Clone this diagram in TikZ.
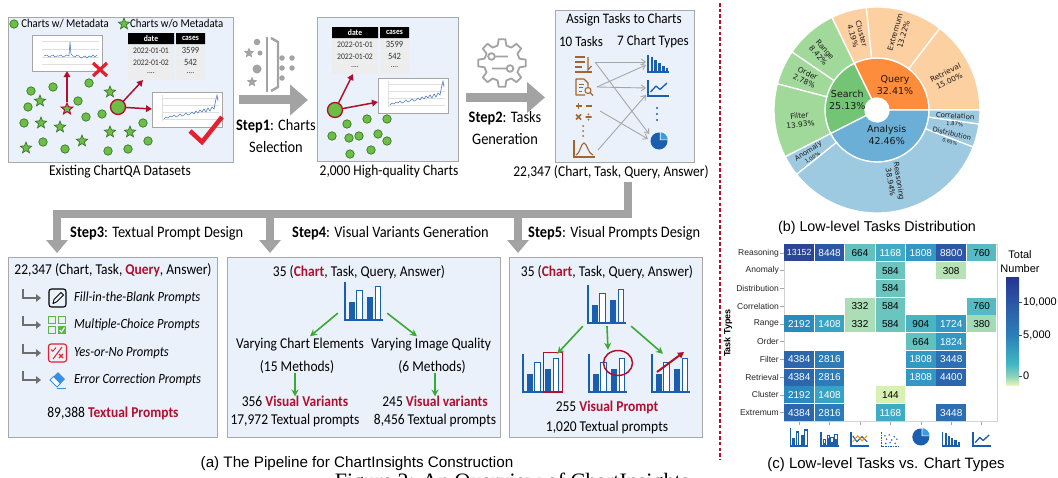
\documentclass[tikz,border=0pt]{standalone}
\usepackage{fontspec}
\setmainfont{Carlito}[FakeStretch=0.9]
\newfontfamily\arialf{Liberation Sans}
\newfontfamily\dejavuf{DejaVu Sans}
\newfontfamily\timesf{Liberation Serif}
\usetikzlibrary{arrows.meta,shapes.geometric,positioning,calc}

\definecolor{boxblue}{HTML}{EAF1FB}
\definecolor{boxgray}{HTML}{A8A8A8}
\definecolor{arrowgray}{HTML}{A3A3A3}
\definecolor{hlred}{HTML}{B0102E}
\definecolor{markred}{HTML}{E4202F}
\definecolor{ptgreen}{HTML}{6CBE45}
\definecolor{ptdark}{HTML}{2F6B1E}
\definecolor{chartblue}{HTML}{1A5FAF}
\definecolor{pielight}{HTML}{3E9BE0}
\definecolor{taskbrown}{HTML}{A5652A}
\definecolor{arrgreen}{HTML}{3AA935}
\definecolor{tabgray}{HTML}{EDEDED}
\definecolor{lineblue}{HTML}{4F7FC0}
\definecolor{hookgray}{HTML}{6E6E6E}
\definecolor{mcgreen}{HTML}{59B84A}
\definecolor{erblue}{HTML}{3A8FE3}
\definecolor{orangeln}{HTML}{F39A1E}
\definecolor{qin}{HTML}{FD8D3C}
\definecolor{qout}{HTML}{FDD0A2}
\definecolor{sin}{HTML}{74C476}
\definecolor{sout}{HTML}{A1D99B}
\definecolor{ain}{HTML}{6BAED6}
\definecolor{aout}{HTML}{9ECAE1}
\definecolor{hA}{HTML}{2A4695}
\definecolor{hB}{HTML}{2D56A4}
\definecolor{hC}{HTML}{2C66AE}
\definecolor{hD}{HTML}{2C6FB2}
\definecolor{hE}{HTML}{2C7CB9}
\definecolor{hF}{HTML}{2A8ABF}
\definecolor{hG}{HTML}{3398C3}
\definecolor{hH}{HTML}{39A3C5}
\definecolor{hI}{HTML}{40ABC5}
\definecolor{hJ}{HTML}{4BB4C3}
\definecolor{hK}{HTML}{55BAC2}
\definecolor{hL}{HTML}{62C0BF}
\definecolor{hM}{HTML}{6CC4BE}
\definecolor{hN}{HTML}{A4DBB7}
\definecolor{hO}{HTML}{ABDEB6}
\definecolor{hP}{HTML}{B6E2B5}
\definecolor{hQ}{HTML}{D9F0B3}
\definecolor{cbA}{HTML}{E6F5B8}
\definecolor{cbB}{HTML}{8ED2BA}
\definecolor{cbC}{HTML}{41B6C4}
\definecolor{cbD}{HTML}{2C7FB8}
\definecolor{cbE}{HTML}{2B5AA6}
\definecolor{cbF}{HTML}{253494}

\pgfdeclareverticalshading{cbarshade}{100bp}{color(0bp)=(cbA); color(25bp)=(cbA); color(29bp)=(cbB); color(35bp)=(cbC); color(48bp)=(cbD); color(62bp)=(cbE); color(75bp)=(cbF); color(100bp)=(cbF)}

\newcommand\redbf[1]{\textbf{\color{hlred}#1}}

\tikzset{
  panel/.style={draw=boxgray, fill=boxblue, line width=0.9pt, inner sep=0pt},
  txt/.style={inner sep=0pt, font=\fontsize{15}{17}\selectfont},
  steptxt/.style={inner sep=0pt, font=\fontsize{16}{22}\selectfont, align=center},
  ittxt/.style={inner sep=0pt, font=\itshape\fontsize{14}{16}\selectfont},
  legtxt/.style={inner sep=0pt, font=\fontsize{12}{14}\selectfont},
  tabtxt/.style={inner sep=0pt, text=black!80, font=\fontsize{8.5}{10}\selectfont},
  captxt/.style={inner sep=0pt, font=\arialf\fontsize{15}{17}\selectfont},
  gdot/.style={circle, fill=ptgreen, draw=ptdark, line width=0.6pt, minimum size=8.5pt, inner sep=0pt},
  gstar/.style={star, star points=5, star point ratio=2.3, fill=ptgreen, draw=ptdark, line width=0.6pt, minimum size=12pt, inner sep=0pt},
  bigdot/.style={circle, fill=ptgreen, draw=hlred, line width=1.3pt, minimum size=15pt, inner sep=0pt},
  redarr/.style={draw=hlred, line width=1.5pt, -{Triangle[length=6pt,width=6.5pt]}},
  bigarrow/.style={draw=arrowgray, line width=9pt, -{Triangle[length=18pt,width=30pt]}},
  bus/.style={draw=arrowgray, line width=8.5pt, line join=miter, -{Triangle[length=13pt,width=21pt]}},
  hook/.style={draw=hookgray, line width=1.8pt, -{Triangle[length=5pt,width=7.5pt]}},
  garrow/.style={draw=arrgreen, line width=1.6pt, -{Stealth[length=7pt,width=7pt]}},
  icobox/.style={minimum width=38pt, minimum height=38pt, inner sep=0pt},
  sbin/.style={inner sep=0pt, align=center, text=black!90, font=\dejavuf\fontsize{9.5}{11.5}\selectfont},
  sbout/.style={inner sep=0pt, align=center, text=black!90, font=\dejavuf\fontsize{7.4}{8.8}\selectfont},
  hcell/.style={minimum width=29.5pt, minimum height=16.85pt, inner sep=0pt, font=\arialf\fontsize{10}{11}\selectfont},
  rowlbl/.style={anchor=east, inner sep=0pt, text=black!85, font=\arialf\fontsize{8.5}{10}\selectfont},
  cbtxt/.style={inner sep=0pt, font=\arialf\fontsize{11}{13}\selectfont},
  barico/.pic={
    \fill[chartblue] (4,0) rectangle (10,-18);
    \draw[chartblue, fill=white, line width=1.2pt] (12,-0.6) rectangle (17.5,-30);
    \fill[chartblue] (22,0) rectangle (28.5,-23);
    \draw[chartblue, fill=white, line width=1.2pt] (30.5,-0.6) rectangle (36,-34);
    \draw[chartblue, line width=1.5pt] (0,-38) -- (0,0) -- (38,0);
  },
  decbar/.pic={
    \foreach \x/\h in {2.5/15,6.3/12,10.1/9,13.9/6.5,17.7/4.5}
      \fill[chartblue] (\x,0) rectangle (\x+2.6,-\h);
    \draw[chartblue, line width=1.3pt] (0,-17) -- (0,0) -- (21,0);
  },
  lineico/.pic={
    \draw[chartblue, line width=1.3pt] (0,-16) -- (0,0) -- (21,0);
    \draw[chartblue, line width=1.3pt, line join=round] (2.5,-4) -- (8,-10) -- (12,-6.5) -- (19,-13);
  },
  pieico/.pic={
    \fill[chartblue] (0,0) circle (8.5);
    \fill[pielight, draw=white, line width=0.6pt] (1.2,-1.2) -- +(0:8) arc (0:-90:8) -- cycle;
  },
  stackico/.pic={
    \foreach \x/\h/\m in {2.5/8/4,7/13/9,11.5/10/5,16/14/8}{
      \draw[chartblue, fill=white, line width=0.8pt] (\x,0) rectangle (\x+3.2,-\h);
      \fill[chartblue] (\x,0) rectangle (\x+3.2,-\m);
    }
    \draw[chartblue, line width=1.3pt] (0,-17) -- (0,0) -- (21,0);
  },
  crossico/.pic={
    \draw[chartblue, line width=1.3pt] (0,-16) -- (0,0) -- (21,0);
    \draw[chartblue, line width=1.1pt] (2,-12) -- (7,-5) -- (13,-11) -- (19,-5);
    \draw[orangeln, line width=1.1pt] (2,-5) -- (8,-12) -- (13,-6) -- (19,-12);
  },
  scatico/.pic={
    \draw[chartblue, line width=1pt, dash pattern=on 1.5pt off 1pt] (0,-16) -- (0,0) -- (21,0);
    \foreach \x/\y in {4/-12,9/-13,15/-11,6/-8,12/-7,18/-8,5/-3,10/-4,16/-3}
      \fill[chartblue] (\x,\y) circle (1);
  },
  badshot/.pic={
    \draw[gray!70, fill=white, line width=0.8pt] (0,0) rectangle (70,36);
    \draw[gray!25, line width=0.3pt] (10,6) -- (67,6) (10,14) -- (67,14) (10,22) -- (67,22) (10,29) -- (67,29);
    \draw[lineblue, line width=0.6pt] plot coordinates {(12,21) (15,20) (17,22) (19,21) (21,20) (23,22) (25,21) (27,21) (29,20) (31,22) (33,21) (35,20) (37,21) (38,7) (39,19) (41,21) (43,22) (45,20) (47,21) (49,23) (51,22) (53,21) (55,23) (57,21) (59,22) (61,20) (63,22) (65,20)};
    \coordinate (-s) at (35,36);
  },
  goodshot/.pic={
    \draw[gray!70, fill=white, line width=0.8pt] (0,0) rectangle (70,35);
    \draw[gray!25, line width=0.3pt] (10,6) -- (67,6) (10,13) -- (67,13) (10,20) -- (67,20) (10,27) -- (67,27) (10,3) -- (10,29);
    \draw[lineblue, line width=0.6pt] plot coordinates {(12,27) (14,25) (16,26) (18,24) (20,25) (22,23) (24,25) (26,24) (28,22) (30,24) (32,23) (34,21) (36,23) (38,22) (40,20) (42,22) (44,19) (46,21) (48,18) (50,20) (52,17) (54,20) (56,16) (58,19) (60,15) (62,17) (64,7) (65,3) (66,9)};
    \coordinate (-w) at (0,17);
  },
  minitab/.pic={
    \fill[black] (0,0) rectangle (46,11) (48,0) rectangle (77,11);
    \fill[tabgray] (0,12) rectangle (46,23) (48,12) rectangle (77,23) (0,24) rectangle (46,35) (48,24) rectangle (77,35) (0,36) rectangle (46,47) (48,36) rectangle (77,47);
    \node[tabtxt, text=white, font=\bfseries\fontsize{8.5}{10}\selectfont] (-h1) at (23,5.5) {date};
    \node[tabtxt, text=white, font=\bfseries\fontsize{8.5}{10}\selectfont] (-h2) at (62.5,5.5) {cases};
    \node[tabtxt] (-r1) at (23,17.5) {2022-01-01};
    \node[tabtxt, font=\fontsize{9.5}{10}\selectfont] (-v1) at (62.5,17.5) {3599};
    \node[tabtxt] (-r2) at (23,29.5) {2022-01-02};
    \node[tabtxt, font=\fontsize{9.5}{10}\selectfont] (-v2) at (62.5,29.5) {542};
    \node[tabtxt] (-r3) at (23,40) {....};
    \node[tabtxt] (-v3) at (62.5,40) {....};
    \coordinate (-bl) at (15,47);
  },
}

\begin{document}
\begin{tikzpicture}[x=1pt,y=-1pt]
\useasboundingbox (0,0) rectangle (1058,477);
\fill[white] (0,0) rectangle (1058,477);

% (a) top row
\node[panel, anchor=north west, minimum width=225pt, minimum height=145pt] (box1) at (8,17) {};
\node[panel, anchor=north west, minimum width=141pt, minimum height=144pt] (box2) at (317,17) {};
\node[panel, anchor=north west, minimum width=139pt, minimum height=152pt] (box3) at (555,10) {};

\node[txt] (cap1) at (120,172) {Existing ChartQA Datasets};
\node[txt] (cap2) at (389,172) {2,000 High-quality Charts};
\node[txt] (cap3) at (611,172) {22,347 (Chart, Task, Query, Answer)};

\node[gdot] (legdot) at (14,24) {};
\node[legtxt, right=2.5pt of legdot] (legtxt1) {Charts w/ Metadata};
\node[gstar] (legstar) at (124,24) {};
\node[legtxt, right=2pt of legstar] (legtxt2) {Charts w/o Metadata};

\pic (shotA) at (32,35) {badshot};
\pic (tabA) at (128,33) {minitab};
\pic (shotB) at (152,92) {goodshot};
\draw[markred, line width=3.2pt] (93,63) -- (107,76) (107,63) -- (93,76);
\draw[markred, line width=4.5pt] (190,131) -- (202,142) -- (222,117);

\foreach \x/\y [count=\i] in {31/91,53/87,89/83,28/107,78/101,24/123,86/117,102/114,43/142,65/149,108/151,128/149,143/123,148/141}
  \node[gdot] (pa\i) at (\x,\y) {};
\foreach \x/\y [count=\i] in {40/101,110/92,41/123,60/127,110/132,130/132,82/141,26/148}
  \node[gstar] (sa\i) at (\x,\y) {};
\node[gstar, draw=hlred, line width=1pt] (rstar) at (67,109) {};
\node[bigdot] (selA) at (118,107) {};
\draw[redarr] (rstar) -- (shotA-s);
\draw[redarr] (selA) -- (tabA-bl);
\draw[redarr] (selA) -- (shotB-w);

\begin{scope}[every node/.style={inner sep=0pt, fill=arrowgray}]
  \node[star, star points=5, star point ratio=2.2, minimum size=11pt] (fs1) at (249,53) {};
  \node[star, star points=5, star point ratio=2.2, minimum size=11pt] (fs2) at (252,82) {};
  \node[circle, minimum size=6.5pt] (fc1) at (257,42) {};
  \node[circle, minimum size=5pt] (fc2) at (260,53) {};
  \node[circle, minimum size=9pt] (fc3) at (257,69) {};
  \foreach \x/\y [count=\i] in {282/58,292/58,282/68,292/68,282/78}
    \node[circle, minimum size=5.5pt] (fd\i) at (\x,\y) {};
\end{scope}
\draw[arrowgray, line width=2.4pt] (267,37) -- (267,92);
\draw[arrowgray, line width=2.4pt, line join=miter] (271,38) -- (278,42) -- (278,87) -- (271,91);

\draw[bigarrow] ($(box1.east)+(5,10)$) -- ($(box1.east -| box2.west)+(-9,10)$);
\node[steptxt] (step1) at (276,136) {\textbf{Step1}: Charts\\Selection};

\pic (tabB) at (332,27) {minitab};
\pic (shotC) at (378,78) {goodshot};
\foreach \x/\y [count=\i] in {347/124,367/119,387/119,332/136,349/138,359/136,378/134,387/141,371/150,350/154}
  \node[gdot] (pb\i) at (\x,\y) {};
\node[bigdot] (selB) at (335,110) {};
\draw[redarr] (selB) -- ([xshift=6pt]tabB-bl);
\draw[redarr] (selB) -- ([yshift=-7pt]shotC-w);

\begin{scope}[shift={(502,63)}]
  \draw[arrowgray, fill=white, line width=1.8pt, line join=round] (-14:18)
    \foreach \a in {0,45,...,315} { -- ({\a-14}:18) -- ({\a-8}:24) -- ({\a+8}:24) -- ({\a+14}:18) } -- cycle;
  \draw[arrowgray, line width=1.8pt] (-10.5,-6.5) circle (3.3) (-7,-6.5) -- (6,-6.5);
  \draw[arrowgray, line width=1.8pt] (-10,5.5) -- (4.5,5.5) (8,5.5) circle (3.3);
\end{scope}
\draw[bigarrow] ($(box2.east)+(7,8)$) -- ($(box2.east -| box3.west)+(-10,8)$);
\node[steptxt] (step2) at (505,128) {\textbf{Step2}: Tasks\\Generation};

\node[txt, font=\fontsize{14.5}{16}\selectfont] (asg) at (624,20) {Assign Tasks to Charts};
\node[txt, font=\fontsize{14.5}{16}\selectfont] (ntask) at (581,42) {10 Tasks};
\node[txt, font=\fontsize{14.5}{16}\selectfont] (nchart) at (653,42) {7 Chart Types};

\begin{scope}[taskbrown, line width=1.3pt]
  \draw (575,57) -- (585,57) (575,62) -- (585,62) (575,67) -- (582,67) (575,72) -- (592,72);
  \draw[line width=1.1pt] (588,57) -- (588,70) -- (591.5,66);
  \draw[line width=1.1pt, line join=round] (585,95) -- (576,95) -- (576,79) -- (584,79) -- (588,83) -- (588,86.5);
  \draw[line width=1pt] (579,84) -- (584,84) (579,87.5) -- (583,87.5) (579,91) -- (582,91);
  \draw[line width=1.1pt] (588,90.5) circle (3) (590.2,92.7) -- (593,95.5);
  \draw[line width=1.7pt] (575.5,106) -- (581.5,106) (578.5,103) -- (578.5,109) (585.5,106) -- (591.5,106);
  \draw[line width=1.7pt] (576,114.5) -- (581,119.5) (581,114.5) -- (576,119.5) (585.5,117) -- (591.5,117);
  \fill (588.5,114.3) circle (1) (588.5,119.7) circle (1);
  \foreach \y in {126,131,136} \fill (583,\y) circle (1);
  \draw[line width=1.4pt] (574,140) -- (574,157) -- (595,157);
  \draw[line width=1.1pt] (576,155) .. controls (580,154) and (581,143) .. (584,143) .. controls (587,143) and (588,154) .. (593,155);
\end{scope}
\pic at (648,72) {decbar};
\pic at (648,96) {lineico};
\foreach \y in {108,114,120} \fill[chartblue] (657,\y) circle (1.1);
\pic at (659,141) {pieico};

\coordinate (t1) at (595,62);
\coordinate (t2) at (597,87);
\coordinate (t3) at (600,111);
\coordinate (t4) at (598,150);
\coordinate (c1) at (646,62);
\coordinate (c1b) at (646,65);
\coordinate (c2) at (646,88);
\coordinate (c2b) at (646,95);
\coordinate (c4) at (649,134);
\coordinate (c4b) at (648,139);
\begin{scope}[every edge/.style={draw=gray!70, line width=0.9pt, -{Straight Barb[length=4pt,width=6pt]}}]
  \path (t1) edge (c1);
  \path (t1) edge (c4);
  \path (t2) edge (c1b);
  \path (t2) edge (c2);
  \path (t3) edge (c4b);
  \path (t4) edge (c2b);
\end{scope}

% steps 3-5
\node[panel, anchor=north west, minimum width=209pt, minimum height=180pt] (txtbox) at (8,257) {};
\node[panel, anchor=north west, minimum width=273pt, minimum height=180pt] (varbox) at (227,257) {};
\node[panel, anchor=north west, minimum width=193pt, minimum height=180pt] (vpbox) at (509,257) {};

\coordinate (busR) at (628,214);
\coordinate (busL) at (57,214);
\coordinate (busM) at (270,214);
\coordinate (busN) at (518,214);
\draw[bus, shorten >=4pt] ([yshift=-3pt]busR |- cap3.south) -- (busR) -- (busL) -- (busL |- txtbox.north);
\draw[bus, shorten >=4pt] (busM) -- (busM |- varbox.north);
\draw[bus, shorten >=4pt] (busN) -- (busN |- vpbox.north);

\node[steptxt, anchor=west] (step3) at (70,233) {\textbf{Step3}: Textual Prompt Design};
\node[steptxt, anchor=west] (step4) at (292,233) {\textbf{Step4}: Visual Variants Generation};
\node[steptxt, anchor=west] (step5) at (528,233) {\textbf{Step5}: Visual Prompts Design};

\node[txt] (q3) at (113,270) {22,347 (Chart, Task, \redbf{Query}, Answer)};
\foreach \y/\t [count=\i] in {298/Fill-in-the-Blank Prompts,325/Multiple-Choice Prompts,353/Yes-or-No Prompts,380/Error Correction Prompts}{
  \draw[hook] (23,\y-9) |- (41,\y);
  \node[ittxt, anchor=west] (pr\i) at (74,\y) {\t};
}
\draw[line width=1.1pt, rounded corners=2.5pt] (49,289) rectangle (66,307);
\draw[line width=0.9pt, line join=round] (53,303.5) -- (54,299.5) -- (61,292.5) -- (63.5,295) -- (56.5,302) -- cycle;
\draw[mcgreen, line width=1pt] (48.5,316.5) rectangle (55.5,323.5) (58.5,316.5) rectangle (65.5,323.5) (48.5,326.5) rectangle (55.5,333.5);
\fill[mcgreen] (58,326) rectangle (66,334);
\draw[white, line width=1pt] (59.5,330) -- (61.5,332) -- (64.5,327.5);
\draw[markred, line width=1.1pt, rounded corners=2.5pt] (48.5,344) rectangle (66.5,362);
\draw[markred, line width=1pt] (62,347) -- (53,359);
\draw[markred, line width=0.9pt] (51,349.5) -- (52.8,351.3) -- (56,347.5);
\draw[markred, line width=1.1pt] (59,354) -- (63,358) (63,354) -- (59,358);
\fill[erblue] (50,380) -- (58,372) -- (65,379) -- (57,387) -- cycle;
\draw[erblue, fill=white, line width=1pt] (50,380) -- (53.5,376.5) -- (60.5,383.5) -- (57,387) -- cycle;
\draw[erblue, line width=1pt] (57,388.5) -- (66,388.5);
\node[txt] (tp) at (113,413) {89,388 \redbf{Textual Prompts}};

\node[txt] (q4) at (359,272) {35 (\redbf{Chart}, Task, Query, Answer)};
\node[icobox] (src4) at (364,301) {};
\pic at (src4.south west) {barico};
\node[txt] (vce) at (300,345) {Varying Chart Elements};
\node[txt] (vcm) at (297,367) {(15 Methods)};
\node[txt] (viq) at (431,345) {Varying Image Quality};
\node[txt] (vim) at (432,367) {(6 Methods)};
\node[txt] (vv1) at (295,401) {356 \redbf{Visual Variants}};
\node[txt] (tp1) at (295,420) {17,972 Textual prompts};
\node[txt] (vv2) at (435,401) {245 \redbf{Visual variants}};
\node[txt] (tp2) at (435,420) {8,456 Textual prompts};
\draw[garrow] ([xshift=-7pt,yshift=7pt]src4.south west) -- ([xshift=10pt,yshift=2pt]vce.north);
\draw[garrow] ([xshift=4pt,yshift=7pt]src4.south east) -- ([xshift=-14pt,yshift=2pt]viq.north);
\draw[garrow] ([yshift=1pt]vcm.south -| vv1) -- ([yshift=-1pt]vv1.north);
\draw[garrow] ([yshift=1pt]vim.south -| vv2) -- ([yshift=-1pt]vv2.north);

\node[txt] (q5) at (607,272) {35 (\redbf{Chart}, Task, Query, Answer)};
\node[icobox] (src5) at (607,304) {};
\pic at (src5.south west) {barico};
\node[icobox] (vp1) at (542,373) {};
\node[icobox] (vp2) at (608,373) {};
\node[icobox] (vp3) at (671,373) {};
\pic at (vp1.south west) {barico};
\pic at (vp2.south west) {barico};
\pic at (vp3.south west) {barico};
\draw[hlred, line width=1.5pt] (543.5,352.5) rectangle (562.5,392);
\draw[hlred, line width=1.5pt] (618,363) ellipse (14.5 and 12.5);
\draw[hlred, line width=2pt, -{Triangle[length=6pt,width=6.5pt]}] (657,372) -- (684,352);
\draw[garrow] ([xshift=-5pt,yshift=-3pt]src5.south west) -- ([xshift=-4pt]vp1.north east);
\draw[garrow] ([yshift=-3pt]src5.south) -- ([yshift=4pt]vp2.north);
\draw[garrow] ([xshift=5pt,yshift=-3pt]src5.south east) -- ([xshift=-8pt]vp3.north);
\node[txt] (vp) at (607,407) {255 \redbf{Visual Prompt}};
\node[txt] (tp3) at (607,427) {1,020 Textual prompts};

\node[captxt, font=\arialf\fontsize{15.2}{17}\selectfont] (capa) at (357,464) {(a) The Pipeline for ChartInsights Construction};

\draw[hlred, line width=1.3pt, dash pattern=on 3.5pt off 2.2pt] (720,3) -- (720,460);

% (b) sunburst
\begin{scope}[shift={(877,110)}, y=1pt]
  \foreach \a/\b/\cl in {0/116/qin,116/207/sin,207/360/ain}
    \filldraw[fill=\cl, draw=white, line width=1.3pt] (\a:12) arc (\a:\b:12) -- (\b:52) arc (\b:\a:52) -- cycle;
  \foreach \a/\b/\cl in {0/52.5/qout,52.5/96/qout,96/116/qout,116/145.7/sout,145.7/165.3/sout,165.3/207/sout,207/218.7/aout,218.7/339/aout,339/352.2/aout,352.2/360/aout}
    \filldraw[fill=\cl, draw=white, line width=1.3pt] (\a:52) arc (\a:\b:52) -- (\b:103) arc (\b:\a:103) -- cycle;
  \node[sbin] (lq) at (18,25) {Query\\32.41\%};
  \node[sbin] (ls) at (-29.7,10) {Search\\25.13\%};
  \node[sbin] (la) at (9.7,-25) {Analysis\\42.46\%};
  \node[sbout, rotate=-74] (lcl) at (-19.7,75) {Cluster\\4.19\%};
  \node[sbout, rotate=74] (lex) at (22.3,76.7) {Extremum\\13.22\%};
  \node[sbout, rotate=26] (lre) at (70.3,33.3) {Retrieval\\15.00\%};
  \node[sbout, rotate=-49] (lra) at (-55.3,57.3) {Range\\8.42\%};
  \node[sbout, rotate=-25] (lor) at (-71,32.7) {Order\\2.78\%};
  \node[sbout, rotate=6] (lfi) at (-77,-10) {Filter\\13.93\%};
  \node[sbout, rotate=33, font=\dejavuf\fontsize{7}{7.5}\selectfont] (lan) at (-67,-44) {Anomaly\\{\fontsize{5.3}{6}\selectfont 1.00\%}};
  \node[sbout, rotate=-81] (lrs) at (18,-71.7) {Reasoning\\38.94\%};
  \node[sbout, rotate=-14, font=\dejavuf\fontsize{6.8}{7.5}\selectfont] (ldi) at (74,-27.3) {Distribution\\{\fontsize{4.8}{6}\selectfont 0.65\%}};
  \node[sbout, rotate=-4, font=\dejavuf\fontsize{7}{7.5}\selectfont] (lco) at (78,-9.5) {Correlation\\{\fontsize{5.3}{6}\selectfont 1.87\%}};
\end{scope}
\node[captxt, font=\arialf\fontsize{14.3}{16}\selectfont] (capb) at (877,228) {(b) Low-level Tasks Distribution};

% (c) heatmap
\draw[gray!35, line width=0.5pt] (784,244) rectangle (997,421.5);
\foreach \n [count=\i] in {Reasoning,Anomaly,Distribution,Correlation,Range,Order,Filter,Retrieval,Cluster,Extremum}{
  \node[rowlbl] (rl\i) at (779,{244+17.75*(\i-0.5)}) {\n};
  \draw[gray!70, line width=0.6pt] (780,{244+17.75*(\i-0.5)}) -- (784,{244+17.75*(\i-0.5)});
}
\foreach \c/\r/\v/\cl/\tc in {1/1/{\fontsize{8.8}{9}\selectfont 13152}/hA/white,2/1/8448/hB/white,3/1/664/hL/black,4/1/1168/hI/white,5/1/1808/hG/white,6/1/8800/hB/white,7/1/760/hK/black,
  4/2/584/hM/black,6/2/308/hP/black,4/3/584/hM/black,3/4/332/hO/black,4/4/584/hM/black,7/4/760/hK/black,
  1/5/2192/hF/white,2/5/1408/hH/white,3/5/332/hO/black,4/5/584/hM/black,5/5/904/hJ/black,6/5/1724/hG/white,7/5/380/hN/black,
  5/6/664/hL/black,6/6/1824/hG/white,1/7/4384/hC/white,2/7/2816/hE/white,5/7/1808/hG/white,6/7/3448/hD/white,
  1/8/4384/hC/white,2/8/2816/hE/white,5/8/1808/hG/white,6/8/4400/hC/white,1/9/2192/hF/white,2/9/1408/hH/white,4/9/144/hQ/black,
  1/10/4384/hC/white,2/10/2816/hE/white,4/10/1168/hI/white,6/10/3448/hD/white}
  \node[hcell, fill=\cl, text=\tc] (hc\c-\r) at ({784+30.4*(\c-0.5)},{244+17.75*(\r-0.5)}) {\v};
\foreach \c in {1,...,7}
  \draw[gray!70, line width=0.6pt] ({784+30.4*(\c-0.5)},421.5) -- ({784+30.4*(\c-0.5)},424.5);
\node[rotate=90, inner sep=0pt, font=\arialf\bfseries\fontsize{9}{10}\selectfont] (ttl) at (728,333) {Task Types};

\pic[scale=0.47] at (790.5,446) {barico};
\pic[scale=0.85] at (821,446) {stackico};
\pic[scale=0.85] at (851,446) {crossico};
\pic[scale=0.85] at (881.5,446) {scatico};
\pic at (920.8,437) {pieico};
\pic[scale=0.85] at (942.5,446) {decbar};
\pic[scale=0.85] at (973,446) {lineico};

\shade[shading=cbarshade] (1006,277) rectangle (1019,385);
\foreach \y in {302,335,376} \draw[black!70, line width=0.6pt] (1019,\y) -- (1022,\y);
\node[cbtxt] (cbt1) at (1020,255) {Total};
\node[cbtxt] (cbt2) at (1020,269) {Number};
\node[cbtxt, anchor=west] (cb10) at (1023,302) {10,000};
\node[cbtxt, anchor=west] (cb5) at (1023,335) {5,000};
\node[cbtxt, anchor=west] (cb0) at (1023,376) {0};
\node[captxt] (capc) at (886,465) {(c) Low-level Tasks vs. Chart Types};

\begin{scope}
  \clip (0,0) rectangle (1058,477);
  \node[anchor=base, inner sep=0pt, font=\timesf\fontsize{22}{24}\selectfont] (figcap) at (512,488.5) {Figure 2: An Overview of ChartInsights};
\end{scope}
\end{tikzpicture}
\end{document}
